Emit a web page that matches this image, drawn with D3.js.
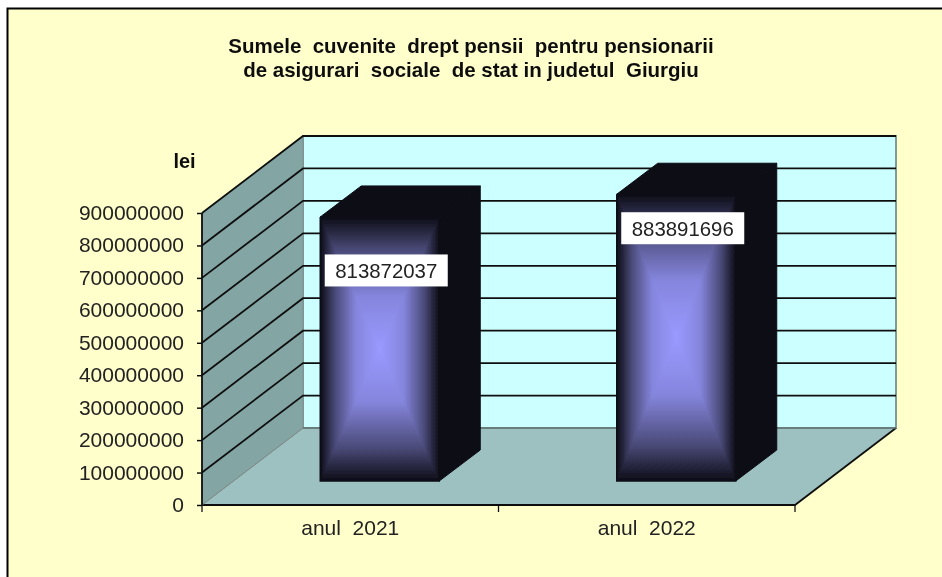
<!DOCTYPE html>
<html><head><meta charset="utf-8">
<script src="https://cdnjs.cloudflare.com/ajax/libs/d3/7.8.5/d3.min.js"></script>
<style>html,body{margin:0;padding:0;background:#fff}svg{display:block}text{font-family:"Liberation Sans",Arial,sans-serif;white-space:pre}</style>
</head><body><svg id="c" width="942" height="577"></svg>
<script>
const categories = ["anul  2021", "anul  2022"];
const values = [813872037, 883891696];
const yTicks = [0,100000000,200000000,300000000,400000000,500000000,600000000,700000000,800000000,900000000];
const titleLines = ["Sumele  cuvenite  drept pensii  pentru pensionarii", "de asigurari  sociale  de stat in judetul  Giurgiu"];
const unitLabel = "lei";

const root = d3.select("#c");
const defs=root.append("defs");
defs.append("filter").attr("id","soft").attr("filterUnits","userSpaceOnUse").attr("x",0).attr("y",0).attr("width",942).attr("height",577)
  .append("feGaussianBlur").attr("stdDeviation",0.4);
const svg = root.append("g").attr("filter","url(#soft)");
const X0=202,X1=795,Y0=505,Y1=213,DX=101,DY=77;
const x = d3.scaleBand().domain(categories).range([X0,X1]);
const y = d3.scaleLinear().domain([0,900000000]).range([Y0,Y1]);

root.insert("rect","g").attr("width",942).attr("height",577).attr("fill","#fff");
svg.append("rect").attr("x",7.5).attr("y",8.5).attr("width",960).attr("height",600)
  .attr("fill","#ffffcc").attr("stroke","#000").attr("stroke-width",2);

const pts=a=>a.map(p=>p.join(",")).join(" ");
svg.append("polygon").attr("points",pts([[X0,Y0],[X1,Y0],[X1+DX,Y0-DY],[X0+DX,Y0-DY]])).attr("fill","#9dc1c0");
svg.append("rect").attr("x",X0+DX).attr("y",Y1-DY).attr("width",X1-X0).attr("height",Y0-Y1)
  .attr("fill","#ccffff").attr("stroke","#7f9a99").attr("stroke-width",2);
svg.append("polygon").attr("points",pts([[X0,Y0],[X0,Y1],[X0+DX,Y1-DY],[X0+DX,Y0-DY]]))
  .attr("fill","#83a5a4").attr("stroke","#7f8f8e").attr("stroke-width",1);
const grid=svg.append("g").attr("fill","none").attr("stroke","#111").attr("stroke-width",1.8);
yTicks.forEach(t=>{
  const yy=y(t);
  if(t>0) grid.append("polyline").attr("points",pts([[X0,yy],[X0+DX,yy-DY],[X1+DX,yy-DY]]));
});
svg.append("polyline").attr("points",pts([[X0,Y0],[X1,Y0],[X1+DX,Y0-DY]])).attr("fill","none").attr("stroke","#111").attr("stroke-width",1.8);
svg.append("line").attr("x1",X0+DX).attr("x2",X1+DX).attr("y1",Y0-DY).attr("y2",Y0-DY).attr("stroke","#5f7574").attr("stroke-width",1.5);
svg.append("line").attr("x1",X0).attr("x2",X0+DX).attr("y1",Y0).attr("y2",Y0-DY).attr("stroke","#808c8b").attr("stroke-width",1);

const barW=119, fdx=29.5, fdy=24, bdx=41, bdy=31;
const dark="#0c0c16";
const labelDrop=[37.5,18];
function grad(id,x1,y1,x2,y2){
  const g=defs.append("linearGradient").attr("id",id).attr("gradientUnits","userSpaceOnUse")
    .attr("x1",x1).attr("y1",y1).attr("x2",x2).attr("y2",y2);
  [[0,dark],[0.25,"#4a4a78"],[0.6,"#8585dd"],[1,"#9999ff"]].forEach(s=>g.append("stop").attr("offset",s[0]).attr("stop-color",s[1]));
  return `url(#${id})`;
}
categories.forEach((c,i)=>{
  const l=x(c)+x.bandwidth()/2-barW/2+fdx, r=l+barW, b=Y0-fdy, h=y(0)-y(values[i]), t=b-h;
  const cx=(l+r)/2, cy=(t+b)/2;
  const g=svg.append("g");
  g.append("polygon").attr("points",pts([[l,t],[l+bdx,t-bdy],[r+bdx,t-bdy],[r,t]])).attr("fill",dark).attr("stroke",dark);
  g.append("polygon").attr("points",pts([[r,t],[r+bdx,t-bdy],[r+bdx,b-bdy],[r,b]])).attr("fill",dark).attr("stroke",dark);
  g.append("rect").attr("x",l).attr("y",t).attr("width",barW).attr("height",cy-t+0.5).attr("fill",grad("gt"+i,cx,t,cx,cy));
  g.append("rect").attr("x",l).attr("y",cy).attr("width",barW).attr("height",b-cy).attr("fill",grad("gb"+i,cx,b,cx,cy));
  g.append("polygon").attr("points",pts([[l,t],[cx+0.3,cy],[l,b]])).attr("fill",grad("gl"+i,l,cy,cx,cy));
  g.append("polygon").attr("points",pts([[r,t],[cx-0.3,cy],[r,b]])).attr("fill",grad("gr"+i,r,cy,cx,cy));
  g.append("polyline").attr("points",pts([[l,t],[l,b],[r,b],[r,t],[l,t]])).attr("fill","none").attr("stroke",dark).attr("stroke-width",1.5);
  const lx=l+66, ly=t+labelDrop[i];
  svg.append("rect").attr("x",lx-61.5).attr("y",ly).attr("width",123).attr("height",32).attr("fill","#fff");
  svg.append("text").attr("x",lx).attr("y",ly+24).attr("text-anchor","middle").attr("font-size",20.4).attr("fill","#222").text(values[i]);
});

const yAxis=d3.axisLeft(y).tickValues(yTicks).tickFormat(d3.format("d")).tickSize(5).tickPadding(13);
const ya=svg.append("g").attr("transform",`translate(${X0},0)`).call(yAxis);
ya.select(".domain").attr("stroke","#111").attr("stroke-width",1.8).attr("d",`M0,${Y1}V${Y0}`);
ya.selectAll(".tick line").attr("stroke","#111").attr("stroke-width",1.5);
ya.selectAll("text").attr("font-size",21).attr("fill","#222").attr("dy","0.31em").style("font-family",'"Liberation Sans",Arial,sans-serif');

const xa=svg.append("g").attr("transform",`translate(0,${Y0})`).call(d3.axisBottom(x).tickSize(0).tickPadding(15));
xa.select(".domain").remove();
xa.selectAll("text").attr("font-size",21).attr("fill","#222").style("font-family",'"Liberation Sans",Arial,sans-serif');
[X0,...categories.map(c=>x(c)+x.bandwidth())].forEach(v=>{
  svg.append("line").attr("x1",v).attr("x2",v).attr("y1",Y0).attr("y2",Y0+7).attr("stroke","#111").attr("stroke-width",1.3);
});

titleLines.forEach((s,i)=>{
  svg.append("text").attr("x",471).attr("y",53+i*24).attr("text-anchor","middle").attr("font-size",20.5).attr("font-weight","bold").attr("fill","#111").text(s);
});
svg.append("text").attr("x",184.5).attr("y",168).attr("text-anchor","middle").attr("font-size",20).attr("font-weight","bold").attr("fill","#111").text(unitLabel);
</script></body></html>
